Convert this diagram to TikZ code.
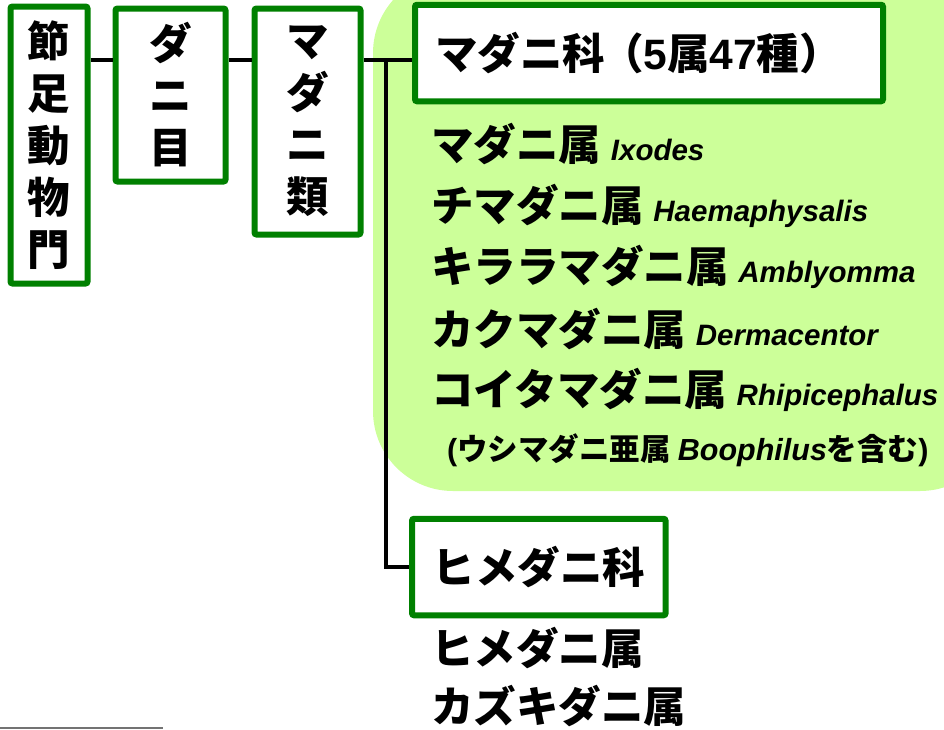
\documentclass[tikz,border=0pt]{standalone}
\usepackage{fontspec}
\setmainfont{Liberation Sans}
\newfontfamily\jpfont{Noto Sans CJK JP}
\newfontfamily\latfont{Liberation Sans}
\definecolor{boxgreen}{RGB}{0,128,0}
\definecolor{bggreen}{RGB}{204,255,153}
\newcommand{\genus}[1]{{\latfont\bfseries\itshape\fontsize{29.5}{31}\selectfont #1}}
\newcommand{\lat}[1]{{\latfont\bfseries #1}}

\tikzset{
  taxbox/.style={draw=boxgreen, line width=6pt, rounded corners=2pt, fill=white,
    inner sep=0pt, align=center, font=\jpfont\bfseries\fontsize{42.5}{52}\selectfont},
  genusline/.style={anchor=west, inner sep=0pt, font=\jpfont\bfseries\fontsize{42.5}{48}\selectfont},
  link/.style={line width=3.5pt}
}

\begin{document}
\begin{tikzpicture}[x=1pt,y=-1pt]
            \useasboundingbox (0,0) rectangle (944,729);

            % Background of the Ixodidae group
            \begin{scope}
                \clip (0,0) rectangle (944,729);
                \fill[bggreen, rounded corners=80pt] (373,-27) rectangle (1000,491);
            \end{scope}

            % Upper ranks
            \node[taxbox, minimum width=77pt, minimum height=277pt] (phylum) at (49,145) {節\\足\\動\\物\\門};
            \node[taxbox, minimum width=110pt, minimum height=173pt] (order) at (170.5,95) {ダ\\ニ\\目};
            \node[taxbox, minimum width=106pt, minimum height=226pt] (group) at (307.5,121.5) {マ\\ダ\\ニ\\類};

            % Families
            \node[taxbox, anchor=west, minimum width=468pt, minimum height=96.5pt, text width=428pt,
                  align=left, inner xsep=20pt] (ixodidae) at (412,53) {マダニ科\hspace{-4pt}（\lat{5}属\lat{47}種）};
            \node[taxbox, minimum width=253.5pt, minimum height=96.5pt] (argasidae) at (538.8,567) {ヒメダニ科};

            % Links between ranks
            \coordinate (split) at (386,60);
            \draw[link] (phylum.east |- split) -- (order.west |- split);
            \draw[link] (order.east |- split) -- (group.west |- split);
            \draw[link] (group.east |- split) -- (ixodidae.west |- split);
            \draw[link] (split) |- (argasidae.west);

            % Genera of Ixodidae
            \node[genusline] (g1) at (431,144) {マダニ属 \genus{Ixodes}};
            \node[genusline] (g2) at (431,205.5) {チマダニ属 \genus{Haemaphysalis}};
            \node[genusline] (g3) at (431,267) {キララマダニ属 \genus{Amblyomma}};
            \node[genusline] (g4) at (431,328.5) {カクマダニ属 \genus{Dermacentor}};
            \node[genusline] (g5) at (431,390) {コイタマダニ属 \genus{Rhipicephalus}};
            \node[genusline, font=\jpfont\bfseries\fontsize{30.5}{34}\selectfont] (g6) at (447,450)
                {\lat{(}ウシマダニ亜属 {\latfont\bfseries\itshape Boophilus}を含む\lat{)}};

            % Genera of Argasidae
            \node[genusline] (g7) at (431,648) {ヒメダニ属};
            \node[genusline] (g8) at (431,706) {カズキダニ属};

            % strip at the lower edge
            \fill[black!55] (0,727) rectangle (163,729);
\end{tikzpicture}
\end{document}
